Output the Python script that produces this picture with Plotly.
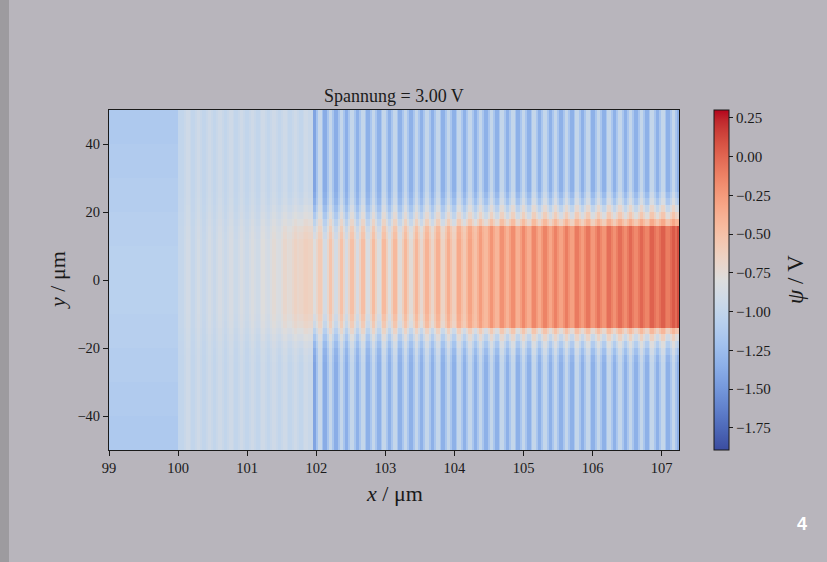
import plotly.graph_objects as go

# ---------------- data ----------------
TITLE = "Spannung = 3.00 V"
X_RANGE = [99.0, 107.25]
Y_RANGE = [-50.0, 50.0]
Z_MIN, Z_MAX = -1.892, 0.30
X_TICKS = [99, 100, 101, 102, 103, 104, 105, 106, 107]
Y_TICKS = [-40, -20, 0, 20, 40]
Y_LABELS = ["\u221240", "\u221220", "0", "20", "40"]
CB_TICKS = [0.25, 0.0, -0.25, -0.5, -0.75, -1.0, -1.25, -1.5, -1.75]
CB_LABELS = ["0.25", "0.00", "\u22120.25", "\u22120.50", "\u22120.75",
             "\u22121.00", "\u22121.25", "\u22121.50", "\u22121.75"]

# rows of the mesh (2 um tall), bottom to top
ROW_EDGES = list(range(-50, 52, 2))
# share of the channel (core) value in each row, bottom to top
ROW_WEIGHT_SHARP = [0, 0, 0, 0, 0, 0, 0, 0, 0, 0, 0, 0, 0,
                    0.03, 0.10, 0.20, 0.35, 0.55,
                    1, 1, 1, 1, 1, 1, 1, 1, 1, 1, 1, 1, 1, 1, 1,
                    0.65, 0.45, 0.30, 0.15, 0.07,
                    0, 0, 0, 0, 0, 0, 0, 0, 0, 0, 0, 0]
ROW_WEIGHT_SOFT = [0, 0, 0, 0, 0, 0, 0, 0, 0, 0, 0, 0, 0,
                   0.04, 0.10, 0.22, 0.40, 0.60,
                   0.80, 0.90, 1, 1, 1, 1, 1, 1, 1, 1, 1, 1, 1, 0.90, 0.80,
                   0.62, 0.44, 0.26, 0.12, 0.05,
                   0, 0, 0, 0, 0, 0, 0, 0, 0, 0, 0, 0]

# block x = 99..100, potential per row (bottom to top)
LEFT_BLOCK_X = [99.0, 100.0]
LEFT_BLOCK = [-1.14, -1.14, -1.14, -1.14, -1.14,
              -1.12, -1.12, -1.12, -1.12, -1.12,
              -1.10, -1.10, -1.10, -1.10, -1.10,
              -1.08, -1.08, -1.08, -1.08, -1.08,
              -1.06, -1.06, -1.06, -1.06, -1.06, -1.06, -1.06, -1.06, -1.06, -1.06,
              -1.08, -1.08, -1.08, -1.08, -1.08,
              -1.10, -1.10, -1.10, -1.10, -1.10,
              -1.12, -1.12, -1.12, -1.12, -1.12,
              -1.14, -1.14, -1.14, -1.14, -1.14]

# stripe section A (x = 100 .. 102): first low stripe centre, period
A_FIRST_LOW, A_PERIOD = 100.062, 0.1559
A_OUT_LOW = [-1.00, -1.00, -1.00, -1.00, -1.00, -1.00, -1.00, -1.00, -1.00, -1.00, -1.00, -1.00]
A_OUT_HIGH = [-0.92, -0.92, -0.92, -0.92, -0.92, -0.92, -0.92, -0.92, -0.92, -0.92, -0.92, -0.92]
A_CORE_LOW = [-0.98, -0.98, -0.97, -0.96, -0.95, -0.94, -0.93, -0.91, -0.88, -0.83, -0.75, -0.67]
A_CORE_HIGH = [-0.89, -0.88, -0.87, -0.86, -0.85, -0.84, -0.82, -0.79, -0.75, -0.70, -0.65, -0.62]
A_SHARP = [0, 0, 0, 0, 0, 0, 0, 0, 0, 0, 0, 0]

# stripe section B (x = 102 .. 107.25)
B_FIRST_LOW, B_PERIOD = 101.975, 0.1551
B_OUT_LOW = [-1.42, -1.37, -1.36, -1.35, -1.34, -1.34, -1.34, -1.34, -1.34, -1.34,
             -1.34, -1.34, -1.34, -1.34, -1.34, -1.34, -1.34, -1.34, -1.34, -1.34,
             -1.34, -1.34, -1.34, -1.34, -1.34, -1.34, -1.34, -1.34, -1.34, -1.34,
             -1.34, -1.34, -1.34, -1.34, -1.34]
B_OUT_HIGH = [-0.97, -0.98, -0.99, -0.99, -0.99, -0.99, -0.99, -0.99, -0.99, -0.99,
              -0.99, -0.99, -0.99, -0.99, -0.99, -0.99, -0.99, -0.99, -0.99, -0.99,
              -0.99, -0.99, -0.99, -0.99, -0.99, -0.99, -0.99, -0.99, -0.99, -0.99,
              -0.99, -0.99, -0.99, -0.99, -0.99]
B_CORE_LOW = [-0.80, -0.88, -0.87, -0.86, -0.85, -0.83, -0.81, -0.79, -0.77, -0.75,
              -0.72, -0.69, -0.66, -0.62, -0.56, -0.50, -0.45, -0.42, -0.40, -0.38,
              -0.36, -0.34, -0.32, -0.30, -0.28, -0.26, -0.24, -0.22, -0.20, -0.18,
              -0.16, -0.14, -0.12, -0.10, 0.10]
B_CORE_HIGH = [-0.58, -0.52, -0.50, -0.49, -0.48, -0.46, -0.45, -0.44, -0.43, -0.42,
               -0.40, -0.38, -0.36, -0.34, -0.30, -0.26, -0.22, -0.20, -0.18, -0.16,
               -0.15, -0.13, -0.12, -0.10, -0.09, -0.07, -0.06, -0.04, -0.03, -0.01,
               0.00, 0.02, 0.03, 0.05, 0.08]
B_SHARP = [0, 0, 0, 0, 0, 0, 0, 0.1, 0.2, 0.3, 0.4, 0.5, 0.6, 0.7, 0.8, 0.9,
           1, 1, 1, 1, 1, 1, 1, 1, 1, 1, 1, 1, 1, 1, 1, 1, 1, 1, 1]

# ---------------- styles ----------------
COOLWARM = [(59, 76, 192), (68, 90, 204), (77, 104, 215), (87, 117, 225), (98, 130, 234),
            (108, 142, 241), (119, 154, 247), (130, 165, 251), (141, 176, 254),
            (152, 185, 255), (163, 194, 255), (174, 201, 253), (184, 208, 249),
            (194, 213, 244), (204, 217, 238), (213, 219, 230), (221, 221, 221),
            (229, 216, 209), (236, 211, 197), (241, 204, 184), (245, 196, 172),
            (247, 187, 159), (247, 177, 148), (247, 166, 135), (244, 154, 123),
            (241, 141, 111), (236, 127, 99), (229, 112, 89), (222, 96, 77),
            (213, 80, 66), (203, 62, 56), (192, 40, 47), (180, 4, 38)]


def muted(c):
    r, g, b = c
    if b > g:
        b = g + 0.72 * (b - g)
    return "rgb(%d,%d,%d)" % (r, g, round(b))


colorscale = [[i / (len(COOLWARM) - 1), muted(c)] for i, c in enumerate(COOLWARM)]

SERIF = "Liberation Serif, DejaVu Serif, serif"
BG = "#b8b5bc"
TXT = "#1a1a1a"

# ---------------- build mesh table ----------------
PATTERN = [("low", -1 / 6, 1 / 6), ("mid", 1 / 6, 2 / 6),
           ("high", 2 / 6, 4 / 6), ("mid", 4 / 6, 5 / 6)]

cells = [[LEFT_BLOCK_X[0], LEFT_BLOCK_X[1], None, None, None]]


def add_section(first_low, period, out_low, out_high, core_low, core_high, sharp):
    for k in range(len(out_low)):
        c = first_low + k * period
        vals = {"low": (out_low[k], core_low[k]),
                "high": (out_high[k], core_high[k]),
                "mid": ((out_low[k] + out_high[k]) / 2, (core_low[k] + core_high[k]) / 2)}
        for name, a, b in PATTERN:
            o, cc = vals[name]
            cells.append([c + a * period, c + b * period, o, cc, sharp[k]])


add_section(A_FIRST_LOW, A_PERIOD, A_OUT_LOW, A_OUT_HIGH, A_CORE_LOW, A_CORE_HIGH, A_SHARP)
add_section(B_FIRST_LOW, B_PERIOD, B_OUT_LOW, B_OUT_HIGH, B_CORE_LOW, B_CORE_HIGH, B_SHARP)

for i in range(1, len(cells)):
    if cells[i][0] > cells[i - 1][1]:
        if i == 1:
            cells[i][0] = cells[i - 1][1]
        else:
            cells[i - 1][1] = cells[i][0]
    elif cells[i][0] < cells[i - 1][1]:
        cells[i][0] = cells[i - 1][1]
cells = [c for c in cells if c[0] < X_RANGE[1]]
cells[-1][1] = X_RANGE[1]

x_edges = [c[0] for c in cells] + [cells[-1][1]]
z = []
for i in range(len(ROW_EDGES) - 1):
    row = []
    for c in cells:
        if c[2] is None:
            row.append(LEFT_BLOCK[i])
        else:
            w = c[4] * ROW_WEIGHT_SHARP[i] + (1 - c[4]) * ROW_WEIGHT_SOFT[i]
            row.append(c[2] + (c[3] - c[2]) * w)
    z.append(row)

# ---------------- figure ----------------
fig = go.Figure(go.Heatmap(
    x=x_edges, y=ROW_EDGES, z=z, zmin=Z_MIN, zmax=Z_MAX,
    colorscale=colorscale, zsmooth=False, hoverinfo="skip",
    colorbar=dict(
        x=605 / 570, xanchor="left", y=0.5, yanchor="middle",
        len=1, lenmode="fraction", thickness=15, thicknessmode="pixels",
        xpad=0, ypad=0, outlinewidth=1, outlinecolor="#1a1a1a",
        ticks="outside", ticklen=4, tickwidth=1, tickcolor="#1a1a1a",
        tickvals=CB_TICKS, ticktext=CB_LABELS,
        tickfont=dict(family=SERIF, size=15, color=TXT),
    ),
))

axis_common = dict(showgrid=False, zeroline=False, showline=True, linecolor="#1a1a1a",
                   linewidth=1, mirror=True, ticks="outside", ticklen=5, tickwidth=1,
                   tickcolor="#1a1a1a", tickfont=dict(family=SERIF, size=14.5, color=TXT))

fig.update_layout(
    width=827, height=562,
    margin=dict(l=109, r=148, t=110, b=112, pad=0),
    paper_bgcolor=BG, plot_bgcolor=BG,
    xaxis=dict(range=X_RANGE, tickvals=X_TICKS, **axis_common),
    yaxis=dict(range=Y_RANGE, tickvals=Y_TICKS, ticktext=Y_LABELS, **axis_common),
    showlegend=False,
    shapes=[dict(type="rect", xref="paper", yref="paper",
                 x0=-109 / 570, x1=-100 / 570, y0=-112 / 340, y1=450 / 340,
                 fillcolor="#9d9b9f", line=dict(width=0), layer="below")],
    annotations=[
        dict(text=TITLE, x=0.5, y=1, xref="paper", yref="paper", xanchor="center",
             yanchor="bottom", yshift=2, showarrow=False,
             font=dict(family=SERIF, size=18, color=TXT)),
        dict(text="<i>x</i> / \u03bcm", x=0.5, y=-43 / 340, xref="paper", yref="paper",
             xanchor="center", yanchor="middle", showarrow=False,
             font=dict(family=SERIF, size=22, color=TXT)),
        dict(text="<i>y</i> / \u03bcm", x=-52 / 570, y=0.5, xref="paper", yref="paper",
             xanchor="center", yanchor="middle", textangle=-90, showarrow=False,
             font=dict(family=SERIF, size=22, color=TXT)),
        dict(text="<i>\u03c8</i> / V", x=686 / 570, y=0.5, xref="paper", yref="paper",
             xanchor="center", yanchor="middle", textangle=-90, showarrow=False,
             font=dict(family=SERIF, size=23, color=TXT)),
        dict(text="<b>4</b>", x=693 / 570, y=-74 / 340, xref="paper", yref="paper",
             xanchor="center", yanchor="middle", showarrow=False,
             font=dict(family="Liberation Sans, Arial, sans-serif", size=18, color="white")),
    ],
)

fig.write_html("out.html", config={"displayModeBar": False},
               post_script="document.body.style.margin='0';document.body.style.overflow='hidden';")
